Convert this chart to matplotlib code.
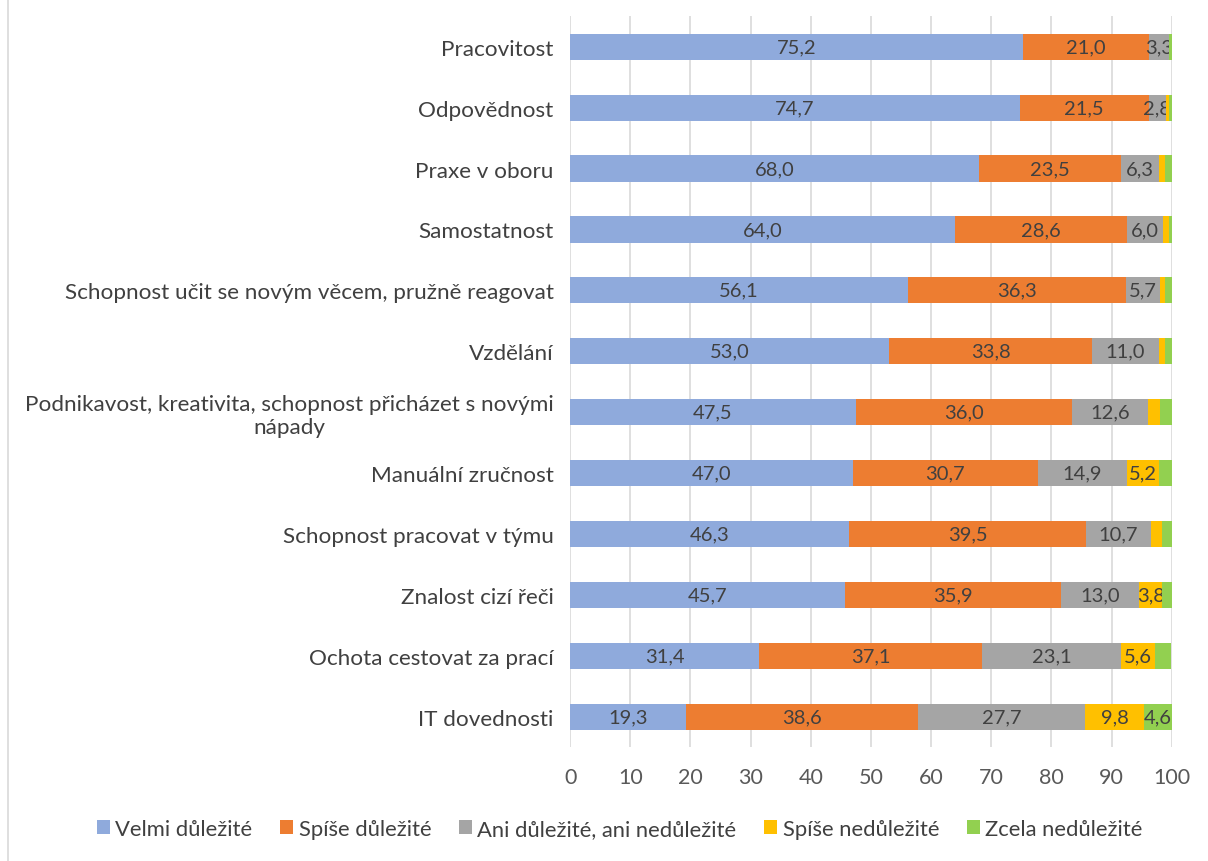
import matplotlib.pyplot as plt
import numpy as np
from matplotlib.lines import Line2D

plt.rcParams['font.family'] = ['Lato', 'DejaVu Sans']

# Kategorie (odshora dolů)
kategorie = [
    "Pracovitost", "Odpovědnost", "Praxe v oboru", "Samostatnost",
    "Schopnost učit se novým věcem, pružně reagovat", "Vzdělání",
    "Podnikavost, kreativita, schopnost přicházet s novými\nnápady",
    "Manuální zručnost", "Schopnost pracovat v týmu", "Znalost cizí řeči",
    "Ochota cestovat za prací", "IT dovednosti"
]

velmi_dulezite = [75.2, 74.7, 68.0, 64.0, 56.1, 53.0, 47.5, 47.0, 46.3, 45.7, 31.4, 19.3]
spise_dulezite = [21.0, 21.5, 23.5, 28.6, 36.3, 33.8, 36.0, 30.7, 39.5, 35.9, 37.1, 38.6]
ani_ani = [3.3, 2.8, 6.3, 6.0, 5.7, 11.0, 12.6, 14.9, 10.7, 13.0, 23.1, 27.7]
spise_nedulezite = [0.1, 0.5, 1.0, 0.9, 0.8, 1.0, 2.0, 5.2, 1.9, 3.8, 5.6, 9.8]
zcela_nedulezite = [0.4, 0.5, 1.2, 0.5, 1.1, 1.2, 1.9, 2.2, 1.6, 1.6, 2.6, 4.6]

serie = ["Velmi důležité", "Spíše důležité", "Ani důležité, ani nedůležité",
         "Spíše nedůležité", "Zcela nedůležité"]
barvy = ['#8FAADC', '#ED7D31', '#A5A5A5', '#FFC000', '#92D050']
hodnoty = [velmi_dulezite, spise_dulezite, ani_ani, spise_nedulezite, zcela_nedulezite]
min_popisek = [0, 0, 2.5, 2.5, 4.0]

fig = plt.figure(figsize=(12.08, 8.62), dpi=100)
ax = fig.add_axes([0.472, 0.132, 0.498, 0.848])

y = np.arange(len(kategorie))
vlevo = np.zeros(len(kategorie))
for nazev, barva, vals, mez in zip(serie, barvy, hodnoty, min_popisek):
    vals = np.array(vals)
    bars = ax.barh(y, vals, left=vlevo, height=0.43, color=barva, label=nazev, zorder=3)
    popisky = [f"{v:.1f}".replace('.', ',') if v >= mez else '' for v in vals]
    ax.bar_label(bars, labels=popisky, label_type='center', fontsize=14.5, color='#404040')
    vlevo += vals

ax.set_ylim(len(kategorie) - 0.5, -0.5)
ax.set_xlim(0, 100)
ax.set_xticks(range(0, 101, 10))
ax.set_yticks(y)
ax.set_yticklabels(kategorie, fontsize=16.2, color='#404040', multialignment='center')
ax.tick_params(axis='x', labelsize=15.5, labelcolor='#595959', length=0, pad=14)
ax.tick_params(axis='y', length=0, pad=12)
ax.grid(axis='x', color='#D9D9D9', linewidth=1.2, zorder=0)
for s in ax.spines.values():
    s.set_visible(False)

ax.legend(loc='center', bbox_to_anchor=(0.513, 0.037), bbox_transform=fig.transFigure,
          ncol=5, frameon=False, fontsize=15.8, labelcolor='#404040',
          handlelength=0.6, handleheight=0.6, handletextpad=0.25, columnspacing=1.25)

# okraj grafu vlevo
fig.add_artist(Line2D([8 / 1208, 8 / 1208], [0, 1], color='#D9D9D9', linewidth=1.2))

fig.savefig('out.png', dpi=100)
